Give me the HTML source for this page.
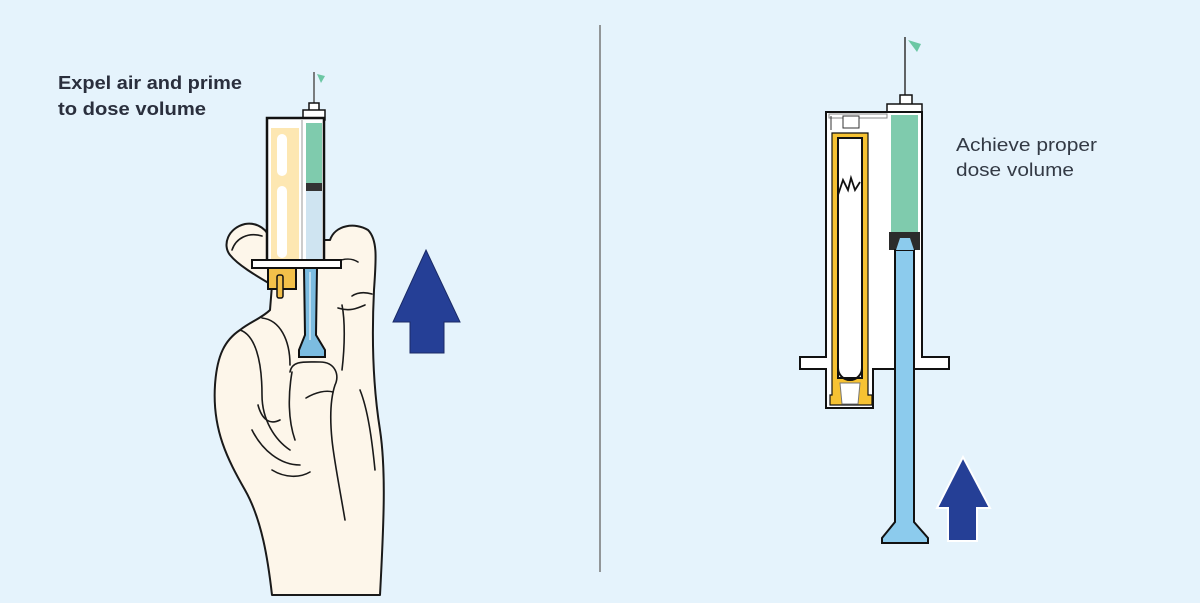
<!DOCTYPE html>
<html><head><meta charset="utf-8"><style>
html,body{margin:0;padding:0;background:#e5f3fc;}
svg{display:block;}
text{font-family:"Liberation Sans",sans-serif;}
</style></head><body>
<svg width="1200" height="603" viewBox="0 0 1200 603" xmlns="http://www.w3.org/2000/svg">
<rect width="1200" height="603" fill="#e5f3fc"/>
<line x1="600" y1="25" x2="600" y2="572" stroke="#777" stroke-width="1.5"/>

<!-- Left text -->
<text x="58" y="89" font-size="18" font-weight="bold" fill="#2a2f3d" textLength="184" lengthAdjust="spacingAndGlyphs">Expel air and prime</text>
<text x="58" y="115" font-size="18" font-weight="bold" fill="#2a2f3d" textLength="148" lengthAdjust="spacingAndGlyphs">to dose volume</text>

<!-- Right text -->
<text x="956" y="151" font-size="18" fill="#333a45" textLength="141" lengthAdjust="spacingAndGlyphs">Achieve proper</text>
<text x="956" y="176" font-size="18" fill="#333a45" textLength="118" lengthAdjust="spacingAndGlyphs">dose volume</text>

<!-- HAND -->
<g stroke="#1a1a1a" stroke-width="2" fill="#fdf6ea" stroke-linecap="round" stroke-linejoin="round">
<path d="M272,595 C268,560 262,520 245,490 C228,460 212,430 215,385 C217,355 225,340 240,330 C250,322 262,318 270,310 L272,285 C255,275 238,265 230,255 C222,245 228,228 245,224 C258,222 268,230 270,240 L330,240 C335,225 355,222 368,230 C378,240 376,260 374,290 C372,330 372,380 380,430 C386,470 384,520 380,595 Z"/>
</g>
<g stroke="#1a1a1a" stroke-width="1.6" fill="none" stroke-linecap="round">
<path d="M240,330 C255,335 262,360 262,395 C262,420 275,440 290,450"/>
<path d="M262,318 C280,320 290,340 290,365"/>
<path d="M252,430 C262,450 280,465 300,465"/>
<path d="M258,405 C262,420 270,425 280,420"/>
<path d="M290,372 C292,360 305,362 320,362 C335,362 340,375 335,385 C330,400 330,420 332,440 C334,460 340,490 345,520"/>
<path d="M292,372 C288,395 288,420 295,440"/>
<path d="M306,398 C316,392 326,390 333,392"/>
<path d="M232,250 C236,238 248,232 262,236"/>
<path d="M335,262 C345,258 352,258 358,262"/>
<path d="M352,296 C358,292 365,292 372,294"/>
<path d="M342,305 C345,320 345,345 342,370"/>
<path d="M338,308 C350,312 358,308 365,305"/>
<path d="M272,470 C285,478 300,478 310,472"/>
<path d="M360,390 C368,410 372,440 375,470"/>
</g>

<!-- LEFT SYRINGE -->
<line x1="314" y1="72" x2="314" y2="105" stroke="#555" stroke-width="1.5"/>
<path d="M317,74 L325,76 L321,83 Z" fill="#6cc7a4"/>
<rect x="309" y="103" width="10" height="10" fill="#fff" stroke="#111" stroke-width="1.5"/>
<rect x="303" y="110" width="22" height="10" fill="#fff" stroke="#111" stroke-width="1.5"/>
<rect x="267" y="118" width="57" height="146" fill="#fff" stroke="#111" stroke-width="2.5"/>
<rect x="271" y="128" width="28" height="134" fill="#fde7b2"/>
<rect x="277" y="134" width="10" height="42" rx="5" fill="#fff"/>
<rect x="277" y="186" width="10" height="72" rx="5" fill="#fff"/>
<rect x="306" y="123" width="16" height="62" fill="#7fcbad"/>
<rect x="306" y="183" width="16" height="8" fill="#333"/>
<rect x="306" y="191" width="16" height="70" fill="#cfe4f1"/>
<line x1="302" y1="120" x2="302" y2="262" stroke="#999" stroke-width="1"/>
<rect x="268" y="267" width="28" height="22" fill="#f3c04a" stroke="#111" stroke-width="2"/>
<rect x="277" y="275" width="6" height="23" rx="2" fill="#f3c04a" stroke="#111" stroke-width="1.5"/>
<rect x="252" y="260" width="89" height="8" fill="#fff" stroke="#111" stroke-width="2"/>
<path d="M304,268 L317,268 L316,335 L325,350 L325,357 L299,357 L299,350 L305,335 Z" fill="#7cbce0" stroke="#111" stroke-width="2"/>
<line x1="310" y1="272" x2="310" y2="340" stroke="#fff" stroke-width="1"/>

<!-- LEFT ARROW -->
<path d="M426,250 L460,322 L444,322 L444,353 L410,353 L410,322 L393,322 Z" fill="#253f96" stroke="#1a2a66" stroke-width="1"/>

<!-- RIGHT SYRINGE -->
<line x1="905" y1="37" x2="905" y2="97" stroke="#333" stroke-width="1.5"/>
<path d="M908,40 L921,44 L917,52 Z" fill="#6cc7a4"/>
<rect x="900" y="95" width="12" height="12" fill="#fff" stroke="#111" stroke-width="1.5"/>
<rect x="887" y="104" width="35" height="9" fill="#fff" stroke="#111" stroke-width="1.5"/>
<path d="M826,112 L922,112 L922,357 L949,357 L949,369 L873,369 L873,408 L826,408 L826,369 L800,369 L800,357 L826,357 Z" fill="#fff" stroke="#111" stroke-width="2"/>
<rect x="829" y="114" width="58" height="4" fill="#fff" stroke="#888" stroke-width="1"/>
<rect x="891" y="115" width="27" height="117" fill="#7fcbad"/>
<path d="M832,133 L868,133 L868,395 L872,395 L872,405 L830,405 L830,395 L832,395 Z" fill="#f6c233" stroke="#111" stroke-width="1.2"/>
<rect x="838" y="138" width="24" height="240" fill="#fff" stroke="#111" stroke-width="2"/>
<path d="M838,368 A12,12 0 0 0 862,368" fill="none" stroke="#111" stroke-width="2"/>
<path d="M840,383 L860,383 L858,404 L842,404 Z" fill="#fff" stroke="#777" stroke-width="1"/>
<path d="M838,195 L843,180 L848,190 L851,178 L855,190 L860,182" fill="none" stroke="#111" stroke-width="1.8"/>
<rect x="843" y="116" width="16" height="12" fill="#fff" stroke="#333" stroke-width="1"/>
<line x1="831" y1="116" x2="831" y2="130" stroke="#333" stroke-width="1"/>
<path d="M889,232 L920,232 L920,250 L889,250 Z" fill="#2b2b2b"/>
<path d="M895,250 L914,250 L914,522 L928,538 L928,543 L882,543 L882,538 L895,522 Z" fill="#8ccbed" stroke="#111" stroke-width="2"/>
<path d="M896,250 L900,238 L910,238 L914,250" fill="#8ccbed"/>

<!-- RIGHT ARROW -->
<path d="M963,457 L990,508 L977,508 L977,541 L948,541 L948,508 L937,508 Z" fill="#253f96" stroke="#fff" stroke-width="2"/>
</svg>
</body></html>
